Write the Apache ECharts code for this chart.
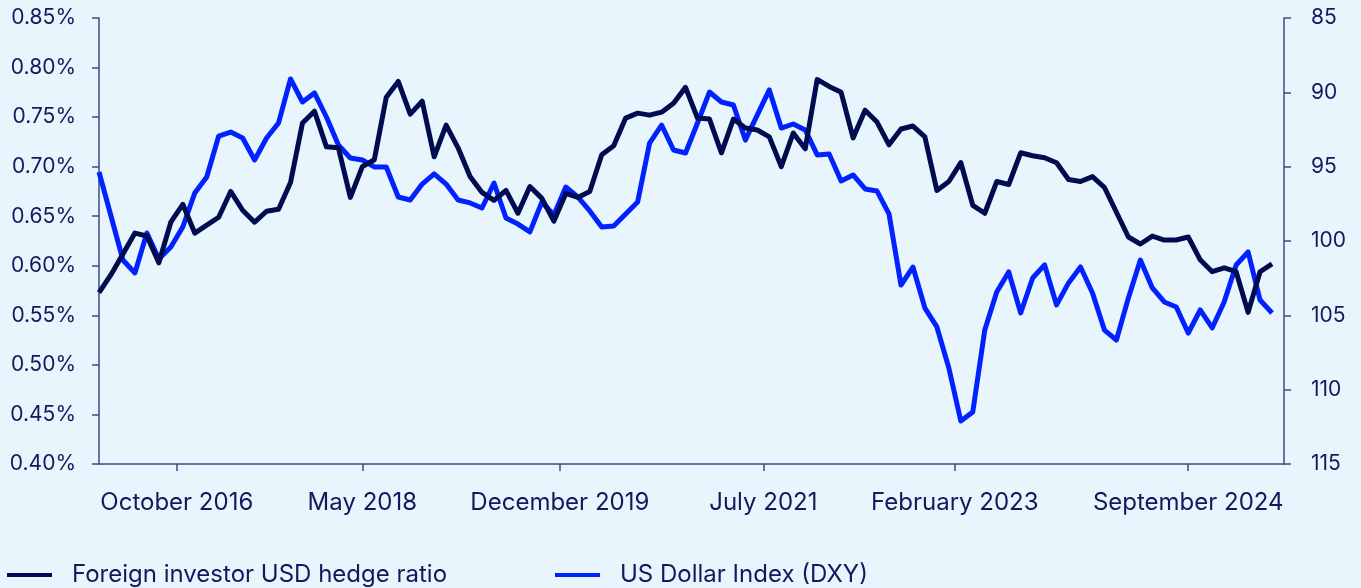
<!DOCTYPE html>
<html>
<head>
<meta charset="utf-8">
<script src="https://cdn.jsdelivr.net/npm/echarts@6/dist/echarts.min.js"></script>
<style>
html,body{margin:0;padding:0;background:#e8f5fd;}
#chart{width:1361px;height:588px;}
</style>
</head>
<body>
<div id="chart"></div>
<script>
// Foreign investor USD hedge ratio (%), one value per observation
const hedgeRatio = [
0.573,0.591,0.612,0.633,0.630,0.603,0.644,0.662,0.633,0.641,
0.649,0.675,0.656,0.644,0.655,0.657,0.684,0.744,0.756,0.720,
0.719,0.669,0.700,0.707,0.770,0.786,0.753,0.766,0.710,0.742,
0.719,0.690,0.674,0.666,0.676,0.653,0.680,0.668,0.645,0.673,
0.669,0.675,0.712,0.721,0.749,0.754,0.752,0.755,0.764,0.780,
0.749,0.748,0.714,0.748,0.739,0.737,0.730,0.700,0.734,0.718,
0.788,0.781,0.775,0.729,0.757,0.745,0.722,0.738,0.741,0.730,
0.676,0.685,0.704,0.661,0.653,0.685,0.682,0.714,0.711,0.709,
0.704,0.687,0.685,0.690,0.679,0.654,0.629,0.622,0.630,0.626,
0.626,0.629,0.606,0.594,0.598,0.594,0.553,0.594,0.602
];
// US Dollar Index (DXY), right axis, inverted
const dxy = [
95.36,98.32,101.28,102.15,99.46,101.21,100.40,99.06,96.77,95.69,
92.94,92.67,93.07,94.55,93.07,92.06,89.10,90.65,90.04,91.66,
93.54,94.42,94.55,95.02,95.02,97.04,97.24,96.17,95.49,96.17,
97.24,97.44,97.78,96.10,98.45,98.86,99.39,97.38,98.25,96.37,
97.04,97.98,99.06,98.99,98.18,97.38,93.41,92.20,93.88,94.08,
92.06,89.98,90.65,90.85,93.21,91.52,89.84,92.40,92.13,92.53,
94.21,94.15,95.96,95.56,96.50,96.64,98.18,102.96,101.75,104.51,
105.78,108.54,112.11,111.50,105.99,103.43,102.08,104.84,102.49,101.61,
104.30,102.82,101.75,103.50,105.99,106.66,103.83,101.28,103.16,104.10,
104.44,106.19,104.64,105.85,104.10,101.61,100.74,103.97,104.84
];
// x-axis tick labels and their positions, in observation steps (half steps allowed)
const tickLabels = ['October 2016','May 2018','December 2019','July 2021','February 2023','September 2024'];
const tickPos = [6.5, 22, 38.5, 55.5, 71.5, 91];

// the axis runs on half-observation slots so ticks can fall between observations
const nObs = hedgeRatio.length;
const categories = Array.from({length: 2 * nObs + 1}, (_, i) => String(i / 2));
const halfSlots = (arr) => {
  const out = [];
  arr.forEach((v, i) => { out.push(v); out.push(null); });
  out.pop();
  return out;
};
const tickSlot = tickPos.map(p => Math.round(p * 2));

const seriesNames = ['Foreign investor USD hedge ratio', 'US Dollar Index (DXY)'];
const navy = '#000c50';
const blue = '#0022ff';
const textColor = '#0f1b5c';
const axisColor = '#3e4a86';
const font = 'Inter, "Noto Sans", sans-serif';

const isTick = (idx) => tickSlot.indexOf(idx) >= 0;

const chart = echarts.init(document.getElementById('chart'), null, {renderer: 'canvas'});
chart.setOption({
  backgroundColor: '#e8f5fd',
  animation: false,
  textStyle: {fontFamily: font},
  grid: {left: 99, right: 77, top: 18, bottom: 124, containLabel: false},
  legend: [
    {
      data: [seriesNames[0]], left: 7, top: 563, padding: 0, icon: 'rect',
      itemWidth: 45, itemHeight: 4, itemGap: 10,
      textStyle: {fontSize: 24, color: textColor, fontFamily: font, padding: [0,0,0,15]}
    },
    {
      data: [seriesNames[1]], left: 555, top: 563, padding: 0, icon: 'rect',
      itemWidth: 45, itemHeight: 4, itemGap: 10,
      textStyle: {fontSize: 24, color: textColor, fontFamily: font, padding: [0,0,0,15]}
    }
  ],
  xAxis: {
    type: 'category',
    data: categories,
    boundaryGap: false,
    axisLine: {lineStyle: {color: axisColor, width: 1.5}},
    axisTick: {show: true, length: 7, interval: (idx) => isTick(idx), lineStyle: {color: axisColor, width: 1.5}},
    axisLabel: {
      interval: (idx) => isTick(idx),
      formatter: (v, idx) => { const k = tickSlot.indexOf(idx); return k >= 0 ? tickLabels[k] : ''; },
      fontSize: 24, color: textColor, margin: 27, fontFamily: font
    },
    splitLine: {show: false}
  },
  yAxis: [
    {
      type: 'value', min: 0.40, max: 0.85, interval: 0.05, position: 'left',
      axisLine: {show: true, lineStyle: {color: axisColor, width: 1.5}},
      axisTick: {show: true, length: 7, lineStyle: {color: axisColor, width: 1.5}},
      axisLabel: {formatter: (v) => v.toFixed(2) + '%', fontSize: 21, color: textColor, margin: 23, fontFamily: font},
      splitLine: {show: false}
    },
    {
      type: 'value', min: 85, max: 115, interval: 5, inverse: true, position: 'right',
      axisLine: {show: true, lineStyle: {color: axisColor, width: 1.5}},
      axisTick: {show: true, length: 7, lineStyle: {color: axisColor, width: 1.5}},
      axisLabel: {fontSize: 21, color: textColor, margin: 27, fontFamily: font},
      splitLine: {show: false}
    }
  ],
  series: [
    {
      name: seriesNames[1], type: 'line', yAxisIndex: 1, data: halfSlots(dxy), connectNulls: true,
      showSymbol: false, symbol: 'none',
      lineStyle: {color: blue, width: 5, join: 'round'}, itemStyle: {color: blue}, z: 2
    },
    {
      name: seriesNames[0], type: 'line', yAxisIndex: 0, data: halfSlots(hedgeRatio), connectNulls: true,
      showSymbol: false, symbol: 'none',
      lineStyle: {color: navy, width: 5, join: 'round'}, itemStyle: {color: navy}, z: 3
    }
  ]
});
</script>
</body>
</html>
